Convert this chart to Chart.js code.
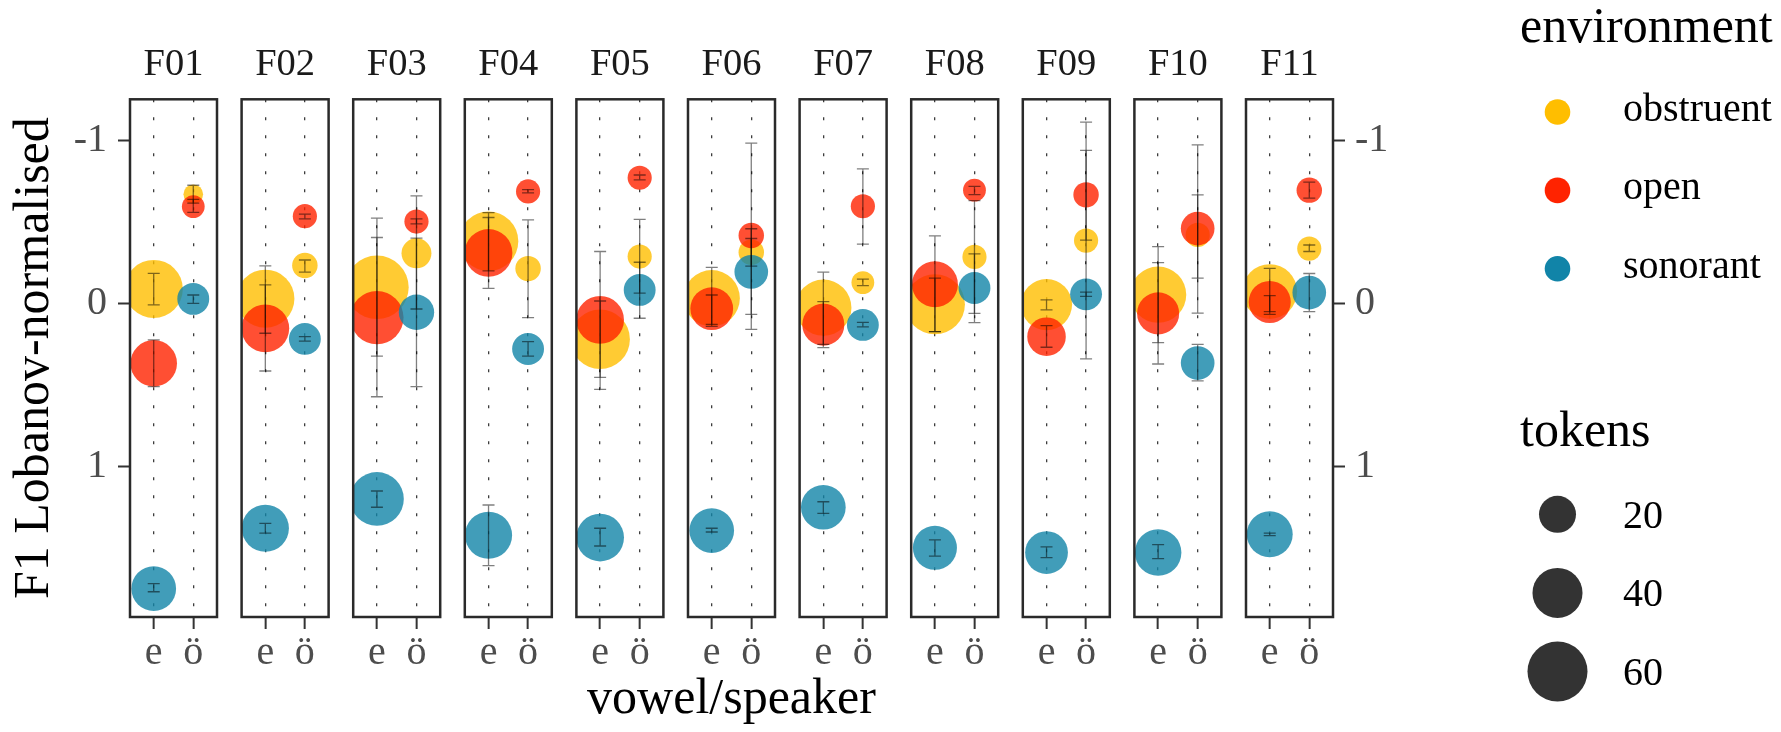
<!DOCTYPE html>
<html lang="en">
<head>
<meta charset="UTF-8">
<title>F1 Lobanov-normalised by vowel and speaker</title>
<script src="https://cdn.jsdelivr.net/npm/chart.js"></script>
<style>
  html, body { margin: 0; padding: 0; background: #fff; }
  #wrap { position: relative; width: 1781px; height: 732px; }
</style>
</head>
<body>
<div id="wrap"><canvas id="f1Chart"></canvas></div>
<script>
// facets / categories
const speakers = ['F01', 'F02', 'F03', 'F04', 'F05', 'F06', 'F07', 'F08', 'F09', 'F10', 'F11'];
const vowels = ['e', 'ö'];
const environments = ['obstruent', 'open', 'sonorant'];
const envColors = ['#FFBE00', '#FF2300', '#1184A8'];
const envFills = ['rgba(255,190,0,0.8)', 'rgba(255,35,0,0.8)', 'rgba(17,132,168,0.8)'];
const yTicks = [-1, 0, 1];
const yTickLabels = ['-1', '0', '1'];
const tokenBreaks = [20, 40, 60];

// values per speaker as [e, ö]
const obstruentMean = [[-0.09, -0.672], [-0.03, -0.234], [-0.10, -0.309], [-0.383, -0.215], [0.219, -0.289], [-0.033, -0.316], [0.025, -0.129], [0.004, -0.287], [0.006, -0.387], [-0.055, -0.422], [-0.074, -0.338]];
const obstruentLo = [[-0.186, -0.727], [-0.232, -0.268], [-0.525, -0.662], [-0.559, -0.514], [-0.016, -0.518], [-0.223, -0.40], [-0.193, -0.15], [-0.156, -0.633], [-0.023, -1.115], [-0.35, -0.668], [-0.217, -0.36]];
const obstruentHi = [[0.008, -0.617], [0.182, -0.193], [0.322, 0.033], [-0.201, 0.086], [0.453, -0.064], [0.14, -0.23], [0.25, -0.11], [0.172, 0.06], [0.039, 0.34], [0.24, -0.156], [0.066, -0.32]];
const obstruentTokens = [[56, 4], [56, 8], [68, 12], [59, 8], [59, 7], [52, 8], [52, 6], [60, 7], [42, 7], [52, 7], [49, 7]];

const openMean = [[0.367, -0.596], [0.152, -0.537], [0.086, -0.504], [-0.311, -0.689], [0.10, -0.773], [0.031, -0.418], [0.129, -0.598], [-0.119, -0.697], [0.203, -0.668], [0.06, -0.461], [-0.01, -0.697]];
const openLo = [[0.223, -0.64], [-0.115, -0.55], [-0.406, -0.52], [-0.529, -0.70], [-0.32, -0.79], [-0.053, -0.986], [-0.012, -0.828], [-0.416, -0.72], [0.135, -0.941], [-0.252, -0.975], [-0.049, -0.746]];
const openHi = [[0.51, -0.56], [0.414, -0.52], [0.572, -0.49], [-0.094, -0.68], [0.527, -0.76], [0.127, 0.158], [0.27, -0.365], [0.172, -0.67], [0.268, -0.39], [0.371, 0.059], [0.049, -0.648]];
const openTokens = [[34, 6], [36, 7], [46, 7], [36, 7], [36, 7], [28, 8], [27, 7], [33, 6], [22, 8], [27, 16], [27, 8]];

const sonorantMean = [[1.751, -0.029], [1.38, 0.217], [1.2, 0.053], [1.423, 0.279], [1.437, -0.084], [1.394, -0.195], [1.251, 0.131], [1.5, -0.096], [1.529, -0.057], [1.529, 0.365], [1.417, -0.068]];
const sonorantLo = [[1.72, -0.053], [1.35, 0.203], [1.151, -0.402], [1.237, 0.234], [1.38, -0.254], [1.38, -0.46], [1.217, 0.115], [1.451, -0.305], [1.494, -0.07], [1.48, 0.25], [1.41, -0.185]];
const sonorantHi = [[1.77, -0.002], [1.41, 0.23], [1.251, 0.51], [1.609, 0.322], [1.489, 0.09], [1.403, 0.066], [1.289, 0.143], [1.551, 0.117], [1.56, -0.045], [1.566, 0.475], [1.425, 0.049]];
const sonorantTokens = [[31, 14], [35, 14], [47, 18], [35, 14], [36, 14], [31, 16], [31, 14], [30, 14], [28, 14], [34, 16], [33, 16]];

const means = [obstruentMean, openMean, sonorantMean];
const lows = [obstruentLo, openLo, sonorantLo];
const highs = [obstruentHi, openHi, sonorantHi];
const tokens = [obstruentTokens, openTokens, sonorantTokens];

// facet layout on one linear x axis: each panel is 2.2 units wide
const PANEL = 2.2;
const GAP = 0.622;
const panelStart = i => i * (PANEL + GAP);
const xPos = (i, j) => panelStart(i) + 0.6 + j;
const xMax = speakers.length * PANEL + (speakers.length - 1) * GAP;
const xTickValues = speakers.flatMap((s, i) => vowels.map((v, j) => xPos(i, j)));

// size scale (area), pixels
const tokenRadius = n => 2.79 + 3.513 * Math.sqrt(n);

const SERIF = '"Liberation Serif", "DejaVu Serif", serif';

const facetPlugin = {
  id: 'facets',
  beforeDatasetsDraw(chart) {
    const { ctx, chartArea, scales: { x } } = chart;
    ctx.save();
    ctx.beginPath();
    speakers.forEach((s, i) => {
      const l = x.getPixelForValue(panelStart(i));
      const r = x.getPixelForValue(panelStart(i) + PANEL);
      ctx.rect(l, chartArea.top, r - l, chartArea.bottom - chartArea.top);
    });
    ctx.clip();
  },
  afterDatasetsDraw(chart) {
    const { ctx, chartArea, scales: { x, y } } = chart;
    ctx.restore();

    // error bars
    ctx.save();
    ctx.strokeStyle = 'rgba(0,0,0,0.5)';
    ctx.lineWidth = 1.3;
    environments.forEach((env, k) => {
      speakers.forEach((s, i) => vowels.forEach((v, j) => {
        const px = x.getPixelForValue(xPos(i, j));
        const y1 = y.getPixelForValue(lows[k][i][j]);
        const y2 = y.getPixelForValue(highs[k][i][j]);
        ctx.beginPath();
        ctx.moveTo(px, y1); ctx.lineTo(px, y2);
        ctx.moveTo(px - 6, y1); ctx.lineTo(px + 6, y1);
        ctx.moveTo(px - 6, y2); ctx.lineTo(px + 6, y2);
        ctx.stroke();
      }));
    });
    ctx.restore();

    // panel borders and strip labels
    ctx.save();
    ctx.strokeStyle = '#2a2a2a';
    ctx.lineWidth = 2.5;
    ctx.font = '38.5px ' + SERIF;
    ctx.fillStyle = '#1a1a1a';
    ctx.textAlign = 'center';
    ctx.textBaseline = 'alphabetic';
    speakers.forEach((s, i) => {
      const l = x.getPixelForValue(panelStart(i));
      const r = x.getPixelForValue(panelStart(i) + PANEL);
      ctx.strokeRect(l, chartArea.top, r - l, chartArea.bottom - chartArea.top);
      ctx.fillText(s, (l + r) / 2, chartArea.top - 24.5);
    });
    ctx.restore();
  },
  afterDraw(chart) {
    const { ctx } = chart;
    ctx.save();
    ctx.textAlign = 'left';
    ctx.textBaseline = 'alphabetic';
    ctx.fillStyle = '#000';
    ctx.font = '50px ' + SERIF;
    ctx.fillText('environment', 1520, 42);
    environments.forEach((env, k) => {
      const cy = 112 + k * 78.4;
      ctx.beginPath();
      ctx.arc(1557.5, cy, 12.8, 0, Math.PI * 2);
      ctx.fillStyle = envColors[k];
      ctx.fill();
      ctx.fillStyle = '#000';
      ctx.font = '40px ' + SERIF;
      ctx.fillText(env, 1623, cy + 9);
    });
    ctx.font = '50px ' + SERIF;
    ctx.fillText('tokens', 1520, 446);
    tokenBreaks.forEach((n, k) => {
      const cy = 514.3 + k * 78.6;
      ctx.beginPath();
      ctx.arc(1557.5, cy, tokenRadius(n), 0, Math.PI * 2);
      ctx.fillStyle = 'rgba(0,0,0,0.8)';
      ctx.fill();
      ctx.fillStyle = '#000';
      ctx.font = '40px ' + SERIF;
      ctx.fillText(String(n), 1623, cy + 13.5);
    });
    ctx.restore();
  }
};

const datasets = environments.map((env, k) => ({
  label: env,
  data: speakers.flatMap((s, i) => vowels.map((v, j) => ({
    x: xPos(i, j),
    y: means[k][i][j],
    r: tokenRadius(tokens[k][i][j])
  }))),
  backgroundColor: envFills[k],
  borderWidth: 0,
  order: 3 - k
}));

const yAxisBase = {
  type: 'linear',
  min: -1.255,
  max: 1.925,
  reverse: true,
  border: { display: false },
  grid: { drawOnChartArea: false, drawTicks: true, tickLength: 12, tickColor: '#333', tickWidth: 2 },
  afterBuildTicks: scale => { scale.ticks = yTicks.map(v => ({ value: v })); },
  ticks: {
    padding: 11,
    color: '#4d4d4d',
    font: { family: SERIF, size: 40, lineHeight: 1.0 },
    callback: (v, i) => yTickLabels[i]
  }
};

new Chart(document.getElementById('f1Chart'), {
  type: 'bubble',
  data: { datasets },
  plugins: [facetPlugin],
  options: {
    responsive: true,
    maintainAspectRatio: false,
    animation: false,
    events: [],
    layout: { padding: { top: 99.3, left: 0, right: 388, bottom: 0 } },
    plugins: { legend: { display: false }, tooltip: { enabled: false } },
    scales: {
      x: {
        type: 'linear',
        min: 0,
        max: xMax,
        // grid lines take their dash from border.dash in v4
        border: { display: false, dash: [3, 15] },
        grid: {
          color: 'rgba(40,40,40,0.9)',
          lineWidth: 1.3,
          drawTicks: true,
          tickLength: 12,
          tickColor: '#333',
          tickWidth: 2,
          tickBorderDash: [12, 0]
        },
        afterBuildTicks: scale => { scale.ticks = xTickValues.map(v => ({ value: v })); },
        afterFit: scale => { scale.height = 115; },
        ticks: {
          autoSkip: false,
          maxRotation: 0,
          minRotation: 0,
          padding: 4,
          color: '#4d4d4d',
          font: { family: SERIF, size: 40, lineHeight: 1.0 },
          callback: (v, i) => vowels[i % 2]
        },
        title: {
          display: true,
          text: 'vowel/speaker',
          color: '#000',
          font: { family: SERIF, size: 50, lineHeight: 1.1 },
          padding: { top: 0, bottom: 5 }
        }
      },
      y: Object.assign({}, yAxisBase, {
        position: 'left',
        afterFit: scale => { scale.width = 130; },
        title: {
          display: true,
          text: 'F1 Lobanov-normalised',
          color: '#000',
          font: { family: SERIF, size: 50, lineHeight: 1.1 },
          padding: { top: 7, bottom: 0 }
        }
      }),
      y2: Object.assign({}, yAxisBase, {
        position: 'right',
        afterFit: scale => { scale.width = 60; },
        ticks: Object.assign({}, yAxisBase.ticks, { padding: 10 })
      })
    }
  }
});
</script>
</body>
</html>
